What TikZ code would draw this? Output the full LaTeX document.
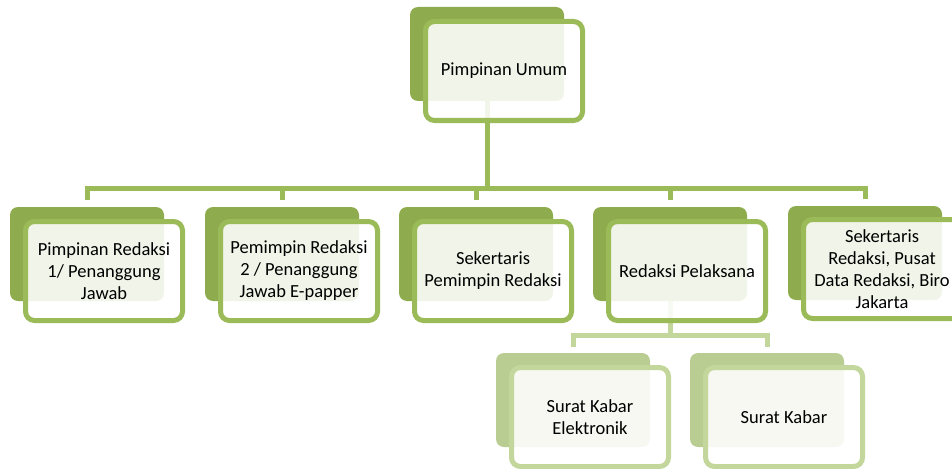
\documentclass[tikz,border=0pt]{standalone}
\usepackage{fontspec}
\setmainfont{Carlito}
\usetikzlibrary{backgrounds}
\definecolor{dkA}{HTML}{8EAC4E}
\definecolor{lnA}{HTML}{9BBB59}
\definecolor{dkB}{HTML}{B9CD92}
\definecolor{lnB}{HTML}{C3D69B}
\tikzset{
  backbox/.style={fill=#1, draw=none, rounded corners=8pt, minimum width=154pt, minimum height=94pt, inner sep=0pt},
  frontbox/.style={draw=#1, line width=5pt, fill=white, fill opacity=0.88, text opacity=1, rounded corners=9pt,
    minimum width=157pt, minimum height=99pt, inner sep=0pt, align=center,
    font=\fontsize{18.5}{22}\selectfont, text=black},
  conn/.style={draw=#1, line width=5pt},
}
\begin{document}
\begin{tikzpicture}[x=1pt,y=-1pt]
\useasboundingbox (0,0) rectangle (952,468);
\clip (0,0) rectangle (952,468);
% top
\node[backbox=dkA] (topb) at (487,54) {};
\node[frontbox=lnA] (topf) at (504,71) {Pimpinan Umum};
% level 1
\node[backbox=dkA] (c1b) at (87,254) {};
\node[frontbox=lnA] (c1f) at (104,271) {Pimpinan Redaksi\\1/ Penanggung\\Jawab};
\node[backbox=dkA] (c2b) at (282,254) {};
\node[frontbox=lnA] (c2f) at (299,271) {Pemimpin Redaksi\\2 / Penanggung\\Jawab E-papper};
\node[backbox=dkA] (c3b) at (476,254) {};
\node[frontbox=lnA] (c3f) at (493,271) {Sekertaris\\Pemimpin Redaksi};
\node[backbox=dkA] (c4b) at (670,254) {};
\node[frontbox=lnA] (c4f) at (687,271) {Redaksi Pelaksana};
\node[backbox=dkA] (c5b) at (865,253) {};
\node[frontbox=lnA] (c5f) at (882,269) {Sekertaris\\Redaksi, Pusat\\Data Redaksi, Biro\\Jakarta};
% level 2
\node[backbox=dkB] (d1b) at (573,400) {};
\node[frontbox=lnB] (d1f) at (590,417) {Surat Kabar\\Elektronik};
\node[backbox=dkB] (d2b) at (767,400) {};
\node[frontbox=lnB] (d2f) at (784,417) {Surat Kabar};
\coordinate (busA) at (0,188);
\coordinate (busB) at (0,335);
\begin{pgfonlayer}{background}
\draw[conn=lnA] (topb.center) -- (topb.center |- busA);
\draw[conn=lnA] ([yshift=7pt]c1b.north) |- (c5b.north |- busA) -- ([yshift=7pt]c5b.north);
\draw[conn=lnA] (c2b.north |- busA) -- ([yshift=7pt]c2b.north);
\draw[conn=lnA] (c3b.north |- busA) -- ([yshift=7pt]c3b.north);
\draw[conn=lnA] (c4b.north |- busA) -- ([yshift=7pt]c4b.north);
\draw[conn=lnB] (c4b.center) -- (c4b.center |- busB);
\draw[conn=lnB] ([yshift=6pt]d1b.north) |- (d2b.north |- busB) -- ([yshift=6pt]d2b.north);
\end{pgfonlayer}
\end{tikzpicture}
\end{document}
